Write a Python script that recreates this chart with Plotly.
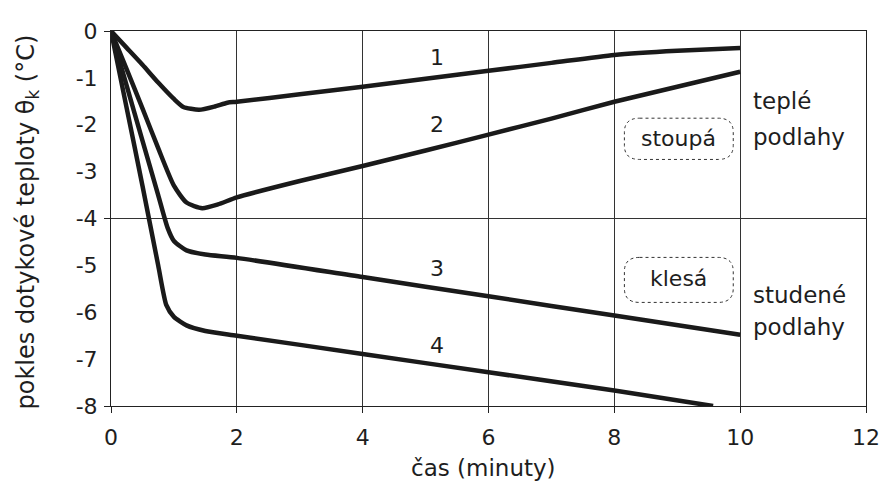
import plotly.graph_objects as go

# ---- data ----
x1 = [0, 0.25, 0.5, 0.75, 1.0, 1.15, 1.4, 1.65, 1.85, 2, 3, 4, 5, 6, 7, 8, 9, 10]
y1 = [0, -0.36, -0.72, -1.1, -1.45, -1.62, -1.68, -1.61, -1.53, -1.51, -1.35, -1.19, -1.02, -0.85, -0.68, -0.51, -0.42, -0.36]

x2 = [0, 0.25, 0.5, 0.75, 1.0, 1.2, 1.45, 1.7, 2, 3, 4, 5, 6, 7, 8, 9, 10]
y2 = [0, -0.82, -1.65, -2.5, -3.3, -3.66, -3.78, -3.7, -3.55, -3.2, -2.88, -2.55, -2.21, -1.87, -1.51, -1.19, -0.87]

x3 = [0, 0.25, 0.5, 0.75, 0.9, 1.0, 1.2, 1.5, 2, 4, 6, 8, 10]
y3 = [0, -1.17, -2.34, -3.5, -4.2, -4.48, -4.68, -4.77, -4.84, -5.25, -5.66, -6.07, -6.48]

x4 = [0, 0.25, 0.5, 0.75, 0.88, 1.0, 1.2, 1.5, 2, 4, 6, 8, 9.57]
y4 = [0, -1.65, -3.3, -5.0, -5.85, -6.1, -6.28, -6.4, -6.5, -6.89, -7.28, -7.67, -8.0]

curve_labels = ["1", "2", "3", "4"]
label_x = [5.18, 5.18, 5.18, 5.18]
label_y = [-0.56, -2.0, -5.07, -6.71]

x_ticks = [0, 2, 4, 6, 8, 10, 12]
y_ticks = [0, -1, -2, -3, -4, -5, -6, -7, -8]
y_tick_text = ["0", "-1", "-2", "-3", "-4", "-5", "-6", "-7", "-8"]
y_grid = [0, -4, -8]

x_title = "čas (minuty)"
y_title = "pokles dotykové teploty θ<sub>k</sub> (°C)"

FONT = "DejaVu Sans"
TXT = "#1e1e1e"
LINE = "#1a1a1a"

fig = go.Figure()
series = [(x1, y1, "y"), (x2, y2, "y"), (x3, y3, "y"), (x4, y4, "y2")]
for xs, ys, ax in series:
    fig.add_trace(go.Scatter(x=xs, y=ys, mode="lines", yaxis=ax,
                             line=dict(color=LINE, width=4.5, shape="spline", smoothing=0.6),
                             showlegend=False, hoverinfo="skip"))

annotations = []
for t, lx, ly in zip(curve_labels, label_x, label_y):
    annotations.append(dict(x=lx, y=ly, text=t, showarrow=False,
                            font=dict(family=FONT, size=22, color=TXT)))

# boxed labels
def rounded_box(x0, x1_, y0, y1_, rx, ry):
    return (f"M {x0+rx} {y0} L {x1_-rx} {y0} Q {x1_} {y0} {x1_} {y0-ry} "
            f"L {x1_} {y1_+ry} Q {x1_} {y1_} {x1_-rx} {y1_} "
            f"L {x0+rx} {y1_} Q {x0} {y1_} {x0} {y1_+ry} "
            f"L {x0} {y0-ry} Q {x0} {y0} {x0+rx} {y0} Z")

shapes = []
for (bx0, bx1, by0, by1) in [(8.16, 9.89, -1.86, -2.74), (8.16, 9.89, -4.83, -5.79)]:
    shapes.append(dict(type="path", xref="x", yref="y",
                       path=rounded_box(bx0, bx1, by0, by1, 0.24, 0.3),
                       line=dict(color="#333333", width=1, dash="dot")))

annotations.append(dict(x=9.02, y=-2.29, text="stoupá", showarrow=False,
                        font=dict(family=FONT, size=22, color=TXT)))
annotations.append(dict(x=9.02, y=-5.27, text="klesá", showarrow=False,
                        font=dict(family=FONT, size=22, color=TXT)))

for txt, ty in [("teplé", -1.5), ("podlahy", -2.27), ("studené", -5.64), ("podlahy", -6.32)]:
    annotations.append(dict(x=10.18, y=ty, text=txt, showarrow=False, xanchor="left",
                            font=dict(family=FONT, size=23, color=TXT)))

annotations.append(dict(xref="paper", yref="paper", x=0.493, y=-0.165, yanchor="middle",
                        text=x_title, showarrow=False,
                        font=dict(family=FONT, size=23, color=TXT)))
annotations.append(dict(xref="paper", yref="paper", x=-0.111, y=0.49, xanchor="center",
                        yanchor="middle", textangle=-90, text=y_title, showarrow=False,
                        font=dict(family=FONT, size=24, color=TXT)))

fig.update_layout(
    width=883, height=481,
    margin=dict(l=111, r=17, t=31, b=75, autoexpand=False),
    paper_bgcolor="white", plot_bgcolor="white",
    xaxis=dict(range=[0, 12], tickvals=x_ticks, ticks="outside", ticklen=6,
               tickcolor="#222", showgrid=True, gridcolor="#333", gridwidth=1,
               showline=True, linecolor="#222", linewidth=1, mirror=True,
               zeroline=False, tickfont=dict(family=FONT, size=22, color=TXT),
               ticklabelstandoff=6, fixedrange=True, automargin=False),
    yaxis=dict(range=[-8, 0], tickvals=y_ticks, ticktext=y_tick_text, ticks="outside", ticklen=6,
               tickcolor="rgba(0,0,0,0)", showgrid=False,
               showline=True, linecolor="#222", linewidth=1, mirror=True,
               zeroline=False, tickfont=dict(family=FONT, size=22, color=TXT),
               ticklabelstandoff=2, fixedrange=True, automargin=False),
    yaxis2=dict(range=[-8, 0], overlaying="y", side="left", tickvals=y_grid,
                ticks="outside", ticklen=6, tickcolor="#222", showticklabels=False,
                showgrid=True, gridcolor="#333", gridwidth=1, zeroline=False,
                showline=False, fixedrange=True, automargin=False),
    shapes=shapes,
    annotations=annotations,
)

fig.write_html("out.html", config={"displayModeBar": False},
               post_script="document.body.style.margin='0';")
